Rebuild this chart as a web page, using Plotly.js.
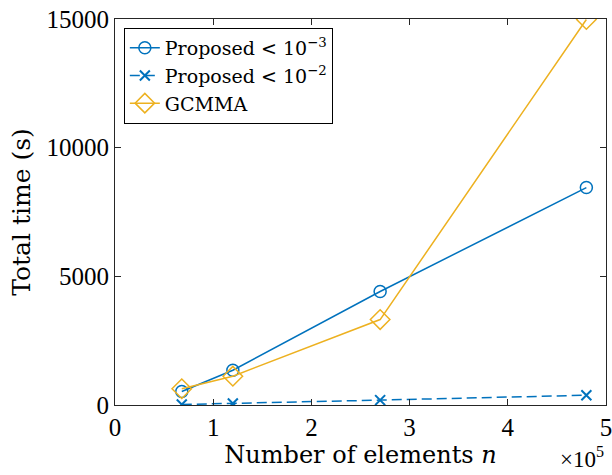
<!DOCTYPE html>
<html>
<head>
<meta charset="utf-8">
<script src="https://cdn.plot.ly/plotly-3.0.1.min.js"></script>
<style>html,body{margin:0;padding:0;background:#fff;}#chart{width:612px;height:475px;}</style>
</head>
<body>
<div id="chart"></div>
<script>
const nElements = [68000, 120000, 270000, 480000];
const proposed3 = [525, 1350, 4410, 8450];
const proposed2 = [20, 60, 190, 380];
const gcmma = [630, 1120, 3320, 14980];
const xTickVals = [0, 100000, 200000, 300000, 400000, 500000];
const xTickText = ['0', '1', '2', '3', '4', '5'];
const yTickVals = [0, 5000, 10000, 15000];
const yTickText = ['0', '5000', '10000', '15000'];

const blue = '#0072BD', yellow = '#EDB120';
const serifA = "'Liberation Serif', 'Times New Roman', serif";
const serifB = "'DejaVu Serif', 'Liberation Serif', serif";

const traces = [
  {x: nElements, y: proposed3, name: 'Proposed &lt; 10<sup>−3</sup>', mode: 'lines+markers',
   line: {color: blue, width: 1.5}, marker: {symbol: 'circle-open', size: 12, color: blue, line: {width: 1.5}}},
  {x: nElements, y: proposed2, name: 'Proposed &lt; 10<sup>−2</sup>', mode: 'lines+markers',
   line: {color: blue, width: 1.5, dash: '10px,5px'}, marker: {symbol: 'x-thin-open', size: 10, color: blue, line: {width: 2, color: blue}}},
  {x: nElements, y: gcmma, name: 'GCMMA', mode: 'lines+markers',
   line: {color: yellow, width: 1.5}, marker: {symbol: 'diamond-open', size: 15, color: yellow, line: {width: 1.5}}}
];

const layout = {
  width: 612, height: 475,
  margin: {l: 115, r: 6, t: 19, b: 70},
  paper_bgcolor: '#fff', plot_bgcolor: '#fff',
  font: {family: serifA, size: 24, color: '#000'},
  showlegend: true,
  legend: {x: 0.018, y: 0.977, xanchor: 'left', yanchor: 'top', bgcolor: '#fff',
           bordercolor: '#000', borderwidth: 1, font: {family: serifB, size: 19, color: '#000'},
           tracegroupgap: 0, itemwidth: 30},
  xaxis: {range: [0, 500000], tickvals: xTickVals, ticktext: xTickText, ticks: 'inside', ticklen: 6,
          tickcolor: '#262626', showline: true, linecolor: '#262626', linewidth: 1, mirror: 'ticks',
          showgrid: false, zeroline: false, tickfont: {family: serifA, size: 25}, ticklabeloverflow: 'allow',
          title: {text: 'Number of elements <i>n</i>', font: {family: serifB, size: 24}, standoff: 6}},
  yaxis: {range: [0, 15000], tickvals: yTickVals, ticktext: yTickText, ticks: 'inside', ticklen: 6,
          tickcolor: '#262626', showline: true, linecolor: '#262626', linewidth: 1, mirror: 'ticks',
          showgrid: false, zeroline: false, tickfont: {family: serifA, size: 25},
          title: {text: 'Total time (s)', font: {family: serifB, size: 25}, standoff: 8}},
  annotations: [{xref: 'paper', yref: 'paper', x: 1.0, y: -0.18, xanchor: 'right', yanchor: 'bottom',
                 text: '×10<sup>5</sup>', showarrow: false, font: {family: serifA, size: 23}}]
};

Plotly.newPlot('chart', traces, layout, {displayModeBar: false});
</script>
</body>
</html>
